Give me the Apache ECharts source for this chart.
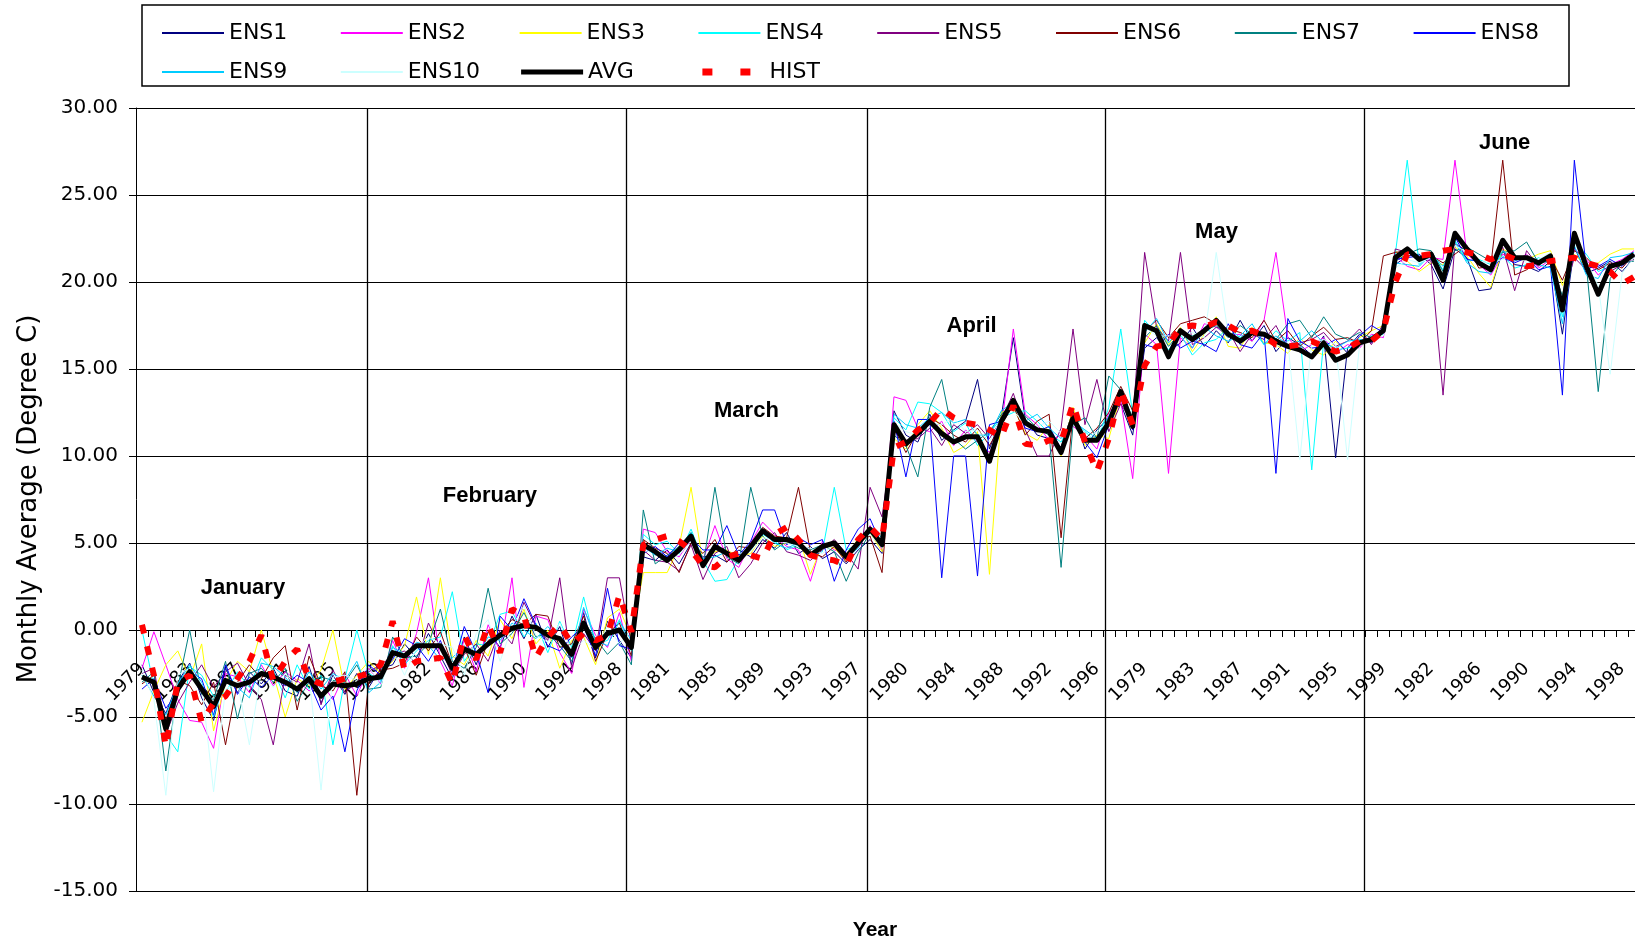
<!DOCTYPE html>
<html><head><meta charset="utf-8">
<script src="https://cdn.jsdelivr.net/npm/echarts@6/dist/echarts.min.js"></script>
<style>html,body{margin:0;padding:0;background:#fff}#c{width:1635px;height:943px}</style>
</head><body><div id="c"></div>
<script>
const years = [1979,1980,1981,1982,1983,1984,1985,1986,1987,1988,1989,1990,1991,1992,1993,1994,1995,1996,1997,1998,1999];
const months = ['January','February','March','April','May','June'];

const ens1 = [
 -2.0,-3.6,-4.8,-3.0,-1.9,-3.9,-5.2,-2.2,-3.6,-2.4,-3.1,-2.2,-3.5,-3.8,-2.1,-4.2,-2.6,-3.7,-2.5,-3.3,-2.2,
 -2.0,-0.8,-1.6,-0.2,-1.5,-2.8,-0.4,-2.0,-0.1,-1.0,0.8,-0.5,0.9,-1.0,0.2,-2.0,1.0,-1.6,0.5,-0.6,-1.6,
 4.2,4.0,4.6,3.8,5.0,4.2,4.3,3.9,4.6,4.2,5.2,4.7,5.6,4.4,4.8,4.1,4.5,3.8,4.6,5.2,4.4,
 12.6,11.2,10.8,12.4,10.9,11.5,12.0,14.4,10.4,12.3,16.8,12.1,11.2,11.0,10.5,12.6,10.4,11.5,12.2,13.0,11.2,
 16.2,16.8,16.0,16.5,17.4,16.3,17.2,16.5,17.8,16.6,17.5,16.0,16.8,16.4,15.8,16.9,9.9,16.2,17.0,16.5,17.4,
 21.0,21.5,21.6,21.0,19.6,21.9,21.4,19.5,19.6,21.8,21.0,20.9,20.6,21.2,17.0,22.0,20.5,20.8,21.2,20.6,21.4];
const ens2 = [
 -2.2,-0.1,-2.0,-4.0,-5.2,-5.3,-6.8,-2.5,-2.7,-3.6,-2.0,-3.2,-2.4,-2.9,-3.5,-3.0,-4.0,-2.5,-3.8,-2.2,-3.1,
 -0.6,-2.2,-0.2,3.0,-1.8,-3.2,-0.5,-2.4,0.3,-1.2,3.0,-3.3,0.8,0.6,-1.3,-2.5,1.2,-0.3,-1.0,1.0,-1.8,
 5.8,5.6,4.5,4.2,5.2,4.0,6.0,4.1,3.6,5.0,6.2,5.5,4.8,4.6,2.8,5.1,4.6,4.4,4.8,6.0,4.6,
 13.4,13.2,11.6,11.4,12.0,10.6,11.5,10.8,10.2,11.6,17.3,12.4,11.8,10.9,11.2,11.7,11.2,10.4,12.5,13.2,8.7,
 17.0,16.4,9.0,16.8,16.2,17.6,17.4,16.9,17.0,16.6,17.8,21.7,16.8,16.0,16.4,16.8,15.9,16.4,16.2,17.0,16.8,
 21.5,20.9,20.7,21.4,21.3,27.0,21.6,21.0,20.4,21.6,21.2,21.6,20.8,21.3,18.6,21.9,21.3,20.4,21.0,21.3,21.8];
const ens3 = [
 -5.3,-3.5,-2.0,-1.2,-2.8,-0.8,-5.8,-3.0,-1.8,-2.4,0.0,-2.5,-5.0,-2.8,-3.2,-2.3,0.0,-3.4,-2.6,-1.8,-2.5,
 -1.8,-0.9,1.9,-1.4,3.0,-1.5,-2.0,-0.6,-1.5,0.6,-0.5,1.2,-0.8,0.0,-2.2,-0.6,-0.4,-2.0,0.7,1.2,-0.4,
 3.3,3.3,3.3,4.8,8.2,3.8,4.5,4.6,4.2,4.4,5.4,4.8,5.0,5.4,3.2,4.9,4.7,4.0,5.3,5.6,4.5,
 11.0,10.4,11.8,12.6,11.6,10.2,10.6,11.4,3.2,12.5,12.8,11.3,10.9,11.8,10.0,12.8,10.6,11.2,11.0,13.5,12.0,
 16.5,17.6,16.4,17.4,16.0,17.0,18.0,16.3,16.2,17.4,16.5,16.4,15.9,16.8,16.1,15.8,16.6,15.9,16.8,17.2,17.5,
 21.8,21.2,20.6,21.1,21.0,22.0,21.5,20.5,19.7,21.9,21.5,21.3,21.6,21.8,19.8,21.6,20.9,21.1,21.6,21.9,21.9];
const ens4 = [
 0.0,-3.2,-6.0,-7.0,-2.1,-2.6,-3.8,-3.6,-2.4,-3.3,-1.6,-2.3,-3.9,-2.0,-3.4,-2.6,-6.6,-2.8,0.0,-2.5,-2.9,
 -0.9,-2.0,-1.2,-0.6,-0.4,2.2,-1.8,-0.8,-0.9,0.9,1.1,-0.4,0.4,-1.3,0.5,-1.0,1.9,-0.8,-0.6,0.6,-1.2,
 5.5,4.9,5.1,4.4,5.8,4.0,2.8,2.9,4.1,4.6,5.5,5.1,4.6,4.9,4.2,4.5,8.2,4.6,4.9,5.7,5.1,
 12.2,11.5,13.1,13.0,12.5,11.4,11.9,10.6,11.3,12.2,12.5,12.6,12.0,11.3,10.8,12.1,11.4,10.8,12.8,17.3,12.4,
 17.8,17.0,16.1,17.0,15.8,16.5,16.7,17.4,16.8,17.3,16.4,17.2,16.6,17.1,9.2,16.6,16.1,16.2,16.4,16.9,17.0,
 21.6,27.0,21.0,21.7,20.7,22.4,21.2,21.3,21.0,21.5,20.8,21.0,21.4,21.0,18.0,22.3,21.6,20.6,20.9,21.2,21.5];
const ens5 = [
 -2.5,-2.2,-6.0,-4.2,-3.0,-2.0,-3.3,-2.4,-1.9,-3.2,-4.0,-6.6,-2.6,-3.0,-0.8,-4.3,-2.3,-3.6,-3.0,-2.4,-2.0,
 -1.5,-1.2,-2.0,0.4,-1.0,-2.6,-1.4,-0.8,-1.8,0.0,-0.8,1.6,0.2,-0.6,3.0,-2.2,-0.2,-1.2,3.0,3.0,-0.8,
 4.6,4.0,3.9,3.4,4.9,2.9,4.4,4.8,3.0,3.8,5.0,5.6,4.5,4.3,4.0,4.6,5.2,4.4,3.5,8.2,6.5,
 11.4,10.9,11.0,11.6,10.6,11.8,11.3,11.8,11.0,12.1,13.6,11.5,10.0,10.0,11.6,17.3,11.8,14.4,11.4,13.0,11.9,
 21.7,17.4,16.6,21.7,16.4,16.8,17.4,17.2,16.0,17.0,16.7,17.5,16.2,16.5,16.7,17.1,16.3,16.6,17.3,16.4,17.6,
 21.9,21.7,21.4,21.2,13.5,22.2,21.8,21.1,20.6,22.0,19.5,21.8,20.9,21.6,19.0,21.4,20.7,21.0,20.6,21.0,21.3];
const ens6 = [
 -3.1,-2.6,-5.2,-2.9,-3.2,-4.3,-3.0,-6.6,-3.0,-2.0,-2.8,-1.6,-0.9,-4.6,-1.5,-3.2,-3.5,-2.4,-9.5,-3.0,-2.3,
 -2.2,-1.9,-0.4,-1.2,-0.1,-2.0,-1.0,-2.6,-0.6,-0.2,0.6,0.3,0.9,0.8,-1.0,-0.8,0.8,-1.8,-0.2,0.4,-1.5,
 5.2,4.7,4.4,3.3,5.0,4.4,5.2,3.9,4.8,4.7,5.9,5.4,5.3,8.2,4.5,4.2,4.8,3.9,5.1,5.4,3.3,
 11.6,10.2,11.4,12.2,11.8,11.2,10.8,11.6,10.6,11.8,12.9,11.2,12.0,12.4,5.3,12.4,11.0,11.6,12.5,14.0,12.6,
 17.2,17.8,16.8,17.6,17.8,18.0,17.6,17.3,17.1,16.8,17.8,16.6,17.2,16.3,16.9,17.4,16.7,16.8,16.5,17.2,21.5,
 21.7,21.8,21.2,21.5,21.1,21.6,22.1,20.8,20.9,27.0,20.4,20.7,21.2,21.4,20.1,21.8,21.4,20.7,21.1,20.8,21.6];
const ens7 = [
 -3.0,-2.4,-8.1,-3.3,0.0,-3.7,-4.0,-1.8,-5.1,-2.5,-2.2,-3.0,-2.2,-4.1,-3.0,-2.7,-2.9,-3.0,-2.0,-3.4,-3.3,
 -0.4,-1.6,-1.5,-0.8,1.2,-1.8,-2.2,-1.0,2.4,-0.8,-0.2,1.0,-0.4,-0.2,-0.9,-1.8,0.5,-0.5,-1.4,-0.7,-2.0,
 6.9,3.8,4.3,4.8,5.6,3.6,8.2,4.2,3.8,8.2,5.4,4.6,5.1,4.7,4.6,4.9,4.5,2.8,4.4,5.6,5.0,
 11.2,10.6,8.8,12.8,14.4,11.0,10.4,10.9,11.4,12.4,13.0,12.3,11.6,11.2,3.6,11.8,12.2,11.0,14.6,13.8,12.2,
 16.8,17.5,16.3,17.1,16.9,17.2,17.5,16.8,17.5,17.0,16.9,16.7,17.6,17.8,16.8,18.0,17.0,16.7,17.1,16.8,17.3,
 21.2,21.6,21.9,21.8,20.6,21.8,22.0,21.6,21.2,21.7,21.8,22.3,21.1,21.2,19.2,22.5,21.0,13.7,20.2,21.1,21.2];
const ens8 = [
 -3.4,-2.8,-4.5,-3.6,-2.4,-2.8,-4.9,-2.0,-3.7,-2.7,-3.3,-2.6,-3.2,-2.6,-3.0,-4.6,-3.8,-7.0,-3.5,-2.0,-2.6,
 -1.7,-0.5,-0.9,-1.8,-0.6,-2.4,0.2,-1.3,-3.6,0.8,0.0,1.8,0.3,-0.9,-1.2,-0.4,0.2,-1.5,2.4,-0.9,-1.1,
 4.4,4.8,4.2,5.0,5.3,4.6,4.6,6.0,4.3,5.1,6.9,6.9,4.9,5.3,4.9,5.2,2.8,4.6,5.8,6.4,4.8,
 12.0,8.8,12.1,12.1,3.0,10.0,10.0,3.1,11.8,12.0,13.3,11.6,11.4,11.7,10.4,12.3,10.8,9.9,11.8,13.4,11.5,
 16.4,16.2,17.0,16.2,16.6,16.4,16.0,17.6,16.4,16.2,17.1,9.0,17.9,16.6,16.2,16.3,16.7,15.9,16.9,17.5,17.1,
 21.3,21.4,21.5,21.3,20.2,22.6,21.3,21.2,20.8,21.4,21.1,21.4,20.7,20.9,13.5,27.0,20.8,20.9,21.3,20.9,21.6];
const ens9 = [
 -2.6,-3.8,-4.9,-3.1,-2.0,-3.0,-5.0,-2.8,-3.3,-3.9,-1.9,-2.1,-2.7,-3.6,-2.4,-3.4,-2.5,-2.9,-1.8,-3.6,-3.0,
 -1.0,-1.4,-0.7,-0.9,-1.7,-1.6,-0.9,-1.6,-0.4,-0.6,0.4,0.0,-0.5,0.2,-0.6,-1.6,1.3,-0.6,-0.9,0.5,-0.6,
 4.8,4.3,4.7,4.5,5.6,4.1,4.2,4.5,4.0,4.9,5.6,5.0,4.7,5.0,4.4,4.7,5.0,4.2,4.7,5.9,5.3,
 12.4,11.8,11.6,12.2,12.5,11.9,12.1,11.2,11.2,12.6,13.1,12.0,12.4,11.6,11.0,12.0,11.5,11.0,12.3,13.6,12.1,
 17.1,17.9,16.5,17.3,16.2,17.4,16.9,16.6,16.9,17.6,16.4,16.9,16.4,16.6,17.2,16.5,16.2,16.6,16.7,16.6,17.4,
 21.1,21.0,20.9,21.6,20.9,22.3,21.1,20.6,20.5,21.8,21.2,21.5,21.0,20.8,17.6,22.1,20.4,20.2,21.4,21.5,21.7];
const ens10 = [
 -2.3,-4.0,-9.5,-2.6,-2.2,-3.1,-9.3,-3.4,-3.0,-6.6,-2.4,-3.3,-2.5,-3.3,-2.6,-9.2,-2.7,-2.6,-2.9,-2.1,-3.2,
 -1.2,-2.6,-1.0,-0.4,-0.8,-1.0,-2.6,-0.2,0.6,-1.8,0.2,1.4,-0.3,-0.7,0.4,-1.2,-0.6,-1.1,0.2,-0.8,0.0,
 4.5,4.6,4.0,4.3,5.1,3.9,4.9,4.3,4.4,4.5,5.3,5.2,5.0,4.8,4.7,4.4,4.9,4.1,5.0,5.5,4.7,
 11.9,11.4,11.2,11.9,11.8,12.2,11.4,11.5,10.8,12.2,12.6,11.8,11.7,12.0,11.3,11.9,10.9,11.4,12.0,13.3,11.8,
 17.4,16.9,16.9,16.9,17.1,16.8,21.7,17.0,16.5,17.2,17.0,16.3,16.5,9.8,16.5,16.7,16.4,9.8,16.3,16.8,16.9,
 20.8,21.3,21.1,21.4,20.5,22.1,21.7,21.2,21.1,21.3,21.6,21.1,21.3,21.7,18.9,22.2,21.2,19.8,14.7,20.5,21.4];
const avg = [
 -2.7,-3.0,-5.7,-3.4,-2.4,-3.4,-4.4,-2.9,-3.2,-3.0,-2.5,-2.7,-3.0,-3.4,-2.8,-3.8,-3.1,-3.2,-3.1,-2.8,-2.7,
 -1.3,-1.5,-0.9,-0.9,-0.9,-2.2,-1.1,-1.4,-0.8,-0.3,0.1,0.25,0.15,-0.3,-0.5,-1.4,0.4,-1.0,-0.2,0.0,-1.0,
 4.9,4.5,4.0,4.6,5.4,3.7,4.8,4.4,4.0,4.8,5.7,5.2,5.2,5.0,4.3,4.8,5.0,4.2,5.0,5.8,4.9,
 11.8,10.7,11.3,12.0,11.3,10.8,11.1,11.1,9.7,12.0,13.2,11.9,11.5,11.4,10.2,12.2,10.9,10.9,11.9,13.7,11.7,
 17.5,17.2,15.7,17.2,16.7,17.2,17.8,17.0,16.6,17.1,17.0,16.6,16.3,16.1,15.7,16.5,15.5,15.8,16.5,16.7,17.2,
 21.4,21.9,21.3,21.6,20.1,22.8,21.9,21.1,20.7,22.4,21.4,21.4,21.1,21.5,18.4,22.8,20.9,19.3,20.9,21.1,21.6];
const hist = [
 0.3,-2.6,-6.7,-3.0,-2.6,-5.3,-4.2,-3.8,-2.8,-1.8,-0.3,-2.9,-1.8,-1.1,-2.8,-3.1,-3.0,-2.8,-2.7,-2.5,-2.0,
 0.5,-2.3,-1.8,-1.7,-1.6,-3.1,-0.3,-1.7,0.3,-1.3,1.2,0.8,-1.6,-0.4,0.3,-0.8,-0.2,-0.6,-0.3,2.0,-0.1,
 4.9,5.2,5.4,5.1,4.6,3.7,3.6,4.2,4.4,4.3,4.1,5.5,5.9,5.2,4.3,4.1,4.0,3.7,5.2,5.9,5.2,
 10.5,10.8,11.5,11.9,12.7,12.2,11.9,11.8,11.5,11.1,12.9,10.7,10.6,10.9,10.8,13.0,10.8,9.1,11.0,13.8,11.8,
 15.2,16.3,16.4,17.4,17.5,17.4,17.7,17.5,17.1,17.2,16.9,16.4,16.3,16.4,16.6,16.3,16.0,16.2,16.6,16.6,17.2,
 20.0,21.6,21.5,21.6,21.8,21.9,21.7,21.6,21.3,21.6,21.3,20.9,21.0,21.2,21.3,21.4,21.1,20.9,20.6,19.9,20.3];

// month divider lines and month annotations (category units along the axis / value units)
const dividerPos = [19.35, 41.1, 61.26, 81.16, 102.9];
const monthLabelX = [8.96, 29.65, 51.14, 70.0, 90.52, 114.66];
const monthLabelY = [2.4, 7.7, 12.6, 17.5, 22.9, 28.0];

[ens1,ens2,ens3,ens4,ens5,ens6,ens7,ens8,ens9,ens10,avg,hist].forEach((a,k)=>{ if(a.length!==126) throw new Error('series '+k+' has length '+a.length); });

const categories = months.flatMap(() => years.map(String));
const ensColors = ['#000080','#ff00ff','#ffff00','#00ffff','#800080','#800000','#008080','#0000ff','#00ccff','#ccffff'];
const ensData = [ens1,ens2,ens3,ens4,ens5,ens6,ens7,ens8,ens9,ens10];

const series = ensData.map((d,k)=>({
  name:'ENS'+(k+1), type:'line', data:d, symbol:'none', showSymbol:false,
  lineStyle:{width:1, color:ensColors[k]}, itemStyle:{color:ensColors[k]}, animation:false, z:2
}));
series.push({name:'AVG', type:'line', data:avg, symbol:'none', showSymbol:false,
  lineStyle:{width:5, color:'#000', join:'round'}, itemStyle:{color:'#000'}, animation:false, z:3});
series.push({name:'HIST', type:'line', data:hist, symbol:'none', showSymbol:false,
  lineStyle:{width:6, color:'#ff0000', type:[9,13]}, itemStyle:{color:'#ff0000'}, animation:false, z:4});
series.push({type:'scatter', xAxisIndex:1, yAxisIndex:0, silent:true, animation:false, z:5,
  symbolSize:1, itemStyle:{color:'rgba(0,0,0,0)'},
  data: months.map((m,k)=>({name:m, value:[monthLabelX[k], monthLabelY[k]]})),
  label:{show:true, position:'inside', formatter:p=>p.name, color:'#000', opacity:1,
    textBorderWidth:0, fontFamily:'Liberation Sans', fontWeight:'bold', fontSize:22},
  markLine:{silent:true, symbol:['none','none'], animation:false,
    lineStyle:{color:'#000', width:1.3, type:'solid'}, label:{show:false},
    data: dividerPos.map(x=>({xAxis:x}))}
});

const legendText = {fontFamily:'DejaVu Sans', fontSize:22, color:'#000', width:92, lineHeight:22};
const legendCommon = {left:156, orient:'horizontal', itemWidth:62, itemHeight:14, itemGap:18.8,
  selectedMode:false, textStyle:legendText, itemStyle:{opacity:0}, lineStyle:{width:2}};
const chart = echarts.init(document.getElementById('c'), null, {renderer:'canvas'});
chart.setOption({
  animation:false,
  backgroundColor:'#fff',
  grid:{left:136, top:108, right:-5, bottom:52, containLabel:false, outerBoundsMode:'none'},
  legend:[
    Object.assign({top:17, data:['ENS1','ENS2','ENS3','ENS4','ENS5','ENS6','ENS7','ENS8']}, legendCommon),
    Object.assign({top:56, data:['ENS9','ENS10',{name:'AVG', lineStyle:{width:5}},
      {name:'HIST', lineStyle:{type:[10,28], width:7}}]}, legendCommon)
  ],
  xAxis:[
    {type:'category', data:categories, boundaryGap:true,
     axisLine:{onZero:false, lineStyle:{color:'#000', width:1}},
     axisTick:{show:true, interval:0, length:7, lineStyle:{color:'#000'}},
     axisLabel:{interval:3, rotate:45, margin:36, color:'#000', fontFamily:'DejaVu Sans', fontSize:18},
     splitLine:{show:false}},
    {type:'value', min:0, max:126, show:false}
  ],
  yAxis:{type:'value', min:-15, max:30, interval:5,
    axisLine:{show:true, onZero:false, lineStyle:{color:'#000', width:1}},
    axisTick:{show:true, length:7, lineStyle:{color:'#000'}},
    axisLabel:{formatter:v=>v.toFixed(2), margin:18, color:'#000', fontFamily:'DejaVu Sans', fontSize:20},
    splitLine:{show:true, lineStyle:{color:'#000', width:1}}},
  graphic:[
    {type:'rect', shape:{x:142, y:5, width:1427, height:81}, style:{fill:'none', stroke:'#000', lineWidth:1.5}, z:-1},
    {type:'text', x:29, y:499, rotation:Math.PI/2,
     style:{text:'Monthly Average (Degree C)', fontFamily:'DejaVu Sans', fontSize:26, fill:'#000', align:'center', verticalAlign:'middle'}},
    {type:'text', x:875, y:930,
     style:{text:'Year', fontFamily:'Liberation Sans', fontWeight:'bold', fontSize:21, fill:'#000', align:'center', verticalAlign:'middle'}}
  ],
  series:series
});
// move the category axis (line, ticks, labels) up to the zero value using the y scale
const yZero = chart.convertToPixel({yAxisIndex:0}, 0);
const yMinPx = chart.convertToPixel({yAxisIndex:0}, -15);
chart.setOption({xAxis:[{offset: -(yMinPx - yZero)}, {}]});
</script></body></html>
